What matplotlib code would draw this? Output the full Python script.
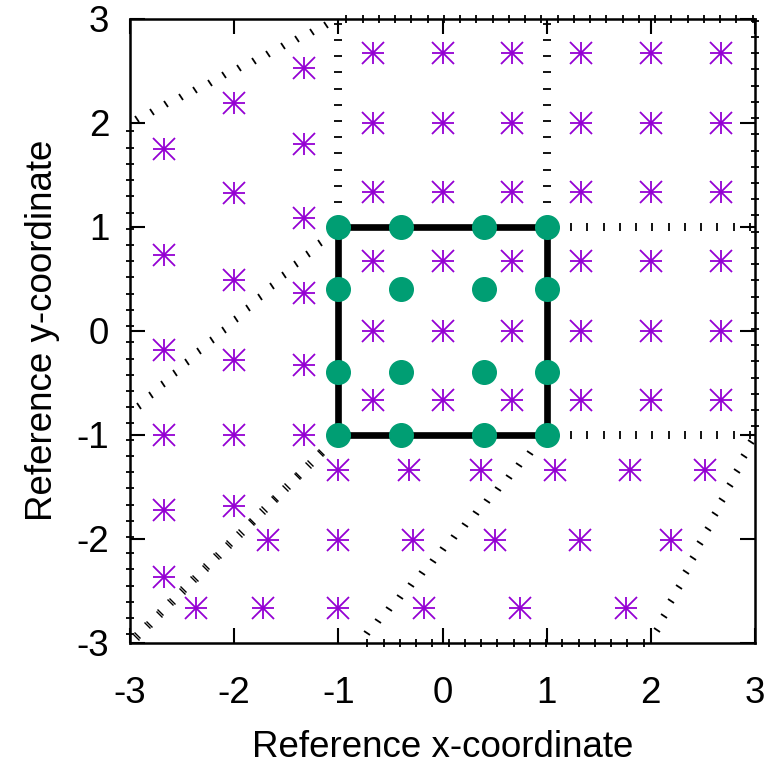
import numpy as np
import matplotlib
matplotlib.use('Agg')
import matplotlib.pyplot as plt
from matplotlib.markers import MarkerStyle
from matplotlib.transforms import Affine2D

plt.rcParams['font.family'] = ['Liberation Sans', 'DejaVu Sans']
plt.rcParams['axes.unicode_minus'] = False

# ---------------- data ----------------
# reference square (element boundary)
square_x = [-1, 1, 1, -1, -1]
square_y = [-1, -1, 1, 1, -1]

# green quadrature nodes (4x4)
node_x = [-1.0, -0.4, 0.4, 1.0,
          -1.0, -0.4, 0.4, 1.0,
          -1.0, -0.4, 0.4, 1.0,
          -1.0, -0.4, 0.4, 1.0]
node_y = [1.0, 1.0, 1.0, 1.0,
          0.4, 0.4, 0.4, 0.4,
          -0.4, -0.4, -0.4, -0.4,
          -1.0, -1.0, -1.0, -1.0]

# purple sample points, by region
center_x = [-0.67, 0.0, 0.67, -0.67, 0.0, 0.67, -0.67, 0.0, 0.67]
center_y = [0.67, 0.67, 0.67, 0.0, 0.0, 0.0, -0.67, -0.67, -0.67]

top_x = [-0.67, 0.0, 0.67, -0.67, 0.0, 0.67, -0.67, 0.0, 0.67]
top_y = [2.67, 2.67, 2.67, 2.0, 2.0, 2.0, 1.33, 1.33, 1.33]

topright_x = [1.33, 2.0, 2.67, 1.33, 2.0, 2.67, 1.33, 2.0, 2.67]
topright_y = [2.67, 2.67, 2.67, 2.0, 2.0, 2.0, 1.33, 1.33, 1.33]

right_x = [1.33, 2.0, 2.67, 1.33, 2.0, 2.67, 1.33, 2.0, 2.67]
right_y = [0.67, 0.67, 0.67, 0.0, 0.0, 0.0, -0.67, -0.67, -0.67]

left_x = [-2.67, -2.67, -2.67, -2.67, -2.67, -2.67,
          -2.0, -2.0, -2.0, -2.0, -2.0, -2.0,
          -1.33, -1.33, -1.33, -1.33, -1.33, -1.33]
left_y = [1.75, 0.73, -0.19, -1.0, -1.73, -2.37,
          2.19, 1.32, 0.49, -0.28, -1.0, -1.69,
          2.52, 1.79, 1.08, 0.36, -0.33, -1.0]

bottom_x = [-1.0, -0.32, 0.37, 1.08, 1.80, 2.52,
            -1.68, -1.0, -0.28, 0.50, 1.32, 2.19,
            -2.37, -1.72, -1.0, -0.18, 0.74, 1.76]
bottom_y = [-1.34, -1.34, -1.34, -1.34, -1.34, -1.34,
            -2.01, -2.01, -2.01, -2.01, -2.01, -2.01,
            -2.67, -2.67, -2.67, -2.67, -2.67, -2.67]

# dotted element edges (start, end)
edge_start = [(-3, 2), (-1, 1), (1, 1), (1, 1), (1, -1), (-1, 1),
              (-3, -3), (-1, -1), (1, -1), (3, -1),
              (-3, -3), (-1, 3), (3, -1), (-0.8, -3)]
edge_end = [(-1, 3), (-1, 3), (1, 3), (3, 1), (3, -1), (-3, -0.8),
            (-1, -1), (-3, -3), (-0.8, -3), (2, -3),
            (-3, 2), (3, 3), (3, 3), (2, -3)]

x_ticks = [-3, -2, -1, 0, 1, 2, 3]
y_ticks = [-3, -2, -1, 0, 1, 2, 3]

# ---------------- plot ----------------
W, H = 770, 767
fig = plt.figure(figsize=(W / 100, H / 100), dpi=100)
ax = fig.add_axes([130 / W, 1 - 642.5 / H, 625 / W, 624 / H])
ax.set_xlim(-3, 3)
ax.set_ylim(-3, 3)

PURPLE = '#9400D3'
GREEN = '#009E73'


def draw_ticked(p0, p1, spacing=0.156, phase=0.5, mew=1.3):
    p0 = np.array(p0, float)
    p1 = np.array(p1, float)
    d = p1 - p0
    L = np.hypot(*d)
    t = (np.arange(0, int(L / spacing) + 2) + phase) * spacing
    t = t[t <= L] / L
    pts = p0 + np.outer(t, d)
    ang = np.degrees(np.arctan2(d[1], d[0]))
    m = MarkerStyle('|', transform=Affine2D().rotate_deg(ang))
    ax.plot(pts[:, 0], pts[:, 1], ls='none', marker=m, ms=5.2, mew=mew,
            color='black', clip_on=False, zorder=2)


for s, e in zip(edge_start, edge_end):
    draw_ticked(s, e, mew=1.0 if s in [(-3, -3), (-1, -1)] and e in [(-3, -3), (-1, -1)] else 1.3)

ax.plot(square_x, square_y, color='black', lw=4.8, zorder=3,
        solid_joinstyle='miter')
ax.plot(node_x, node_y, ls='none', marker='o', ms=17, color=GREEN,
        mec=GREEN, zorder=4)

star_x = center_x + top_x + topright_x + right_x + left_x + bottom_x
star_y = center_y + top_y + topright_y + right_y + left_y + bottom_y
for mk in ['+', 'x']:
    ax.plot(star_x, star_y, ls='none', marker=mk, ms=16.5, mew=1.3,
            color=PURPLE, zorder=5)

ax.set_xticks(x_ticks)
ax.set_yticks(y_ticks)
ax.set_xticklabels([str(v) for v in x_ticks])
ax.set_yticklabels([str(v) for v in y_ticks])
ax.tick_params(direction='in', length=11, width=1.5, top=True, right=True,
               labelsize=26.5)
ax.tick_params(axis='x', pad=24)
ax.tick_params(axis='y', pad=15)
for sp in ax.spines.values():
    sp.set_linewidth(1.8)

ax.set_xlabel('Reference x-coordinate', fontsize=26.5, labelpad=14)
ax.set_ylabel('Reference y-coordinate', fontsize=26.5, labelpad=12)

fig.savefig('out.png', dpi=100)
